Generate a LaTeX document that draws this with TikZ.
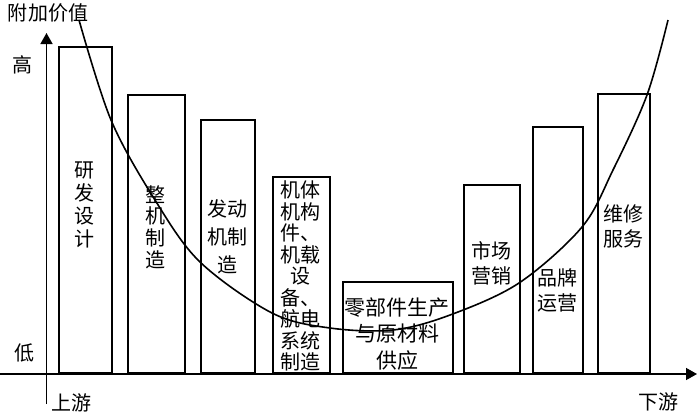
\documentclass[tikz,border=0pt]{standalone}
\usepackage{fontspec}
\newfontfamily\cjk{Noto Sans CJK SC}
\usetikzlibrary{arrows.meta}
\begin{document}
\begin{tikzpicture}[x=1pt,y=-1pt,
  bar/.style={draw,line width=1.6pt,anchor=south west,inner sep=0pt},
  lab/.style={font=\cjk\fontsize{20}{22}\selectfont,inner sep=0pt,align=center},
  axisline/.style={line width=1.4pt,-{Triangle[length=11pt,width=12pt]}},
  curveline/.style={line width=1.6pt}]
\useasboundingbox (0,0) rectangle (700,416);
% bars
\node[bar,minimum width=53pt,minimum height=326pt] (b1) at (58,374) {};
\node[bar,minimum width=57pt,minimum height=278pt] (b2) at (127,374) {};
\node[bar,minimum width=54pt,minimum height=253pt] (b3) at (200,374) {};
\node[bar,minimum width=57pt,minimum height=196pt] (b4) at (272,374) {};
\node[bar,minimum width=110pt,minimum height=91pt] (b5) at (342,374) {};
\node[bar,minimum width=56pt,minimum height=188pt] (b6) at (463,374) {};
\node[bar,minimum width=50pt,minimum height=246pt] (b7) at (532,374) {};
\node[bar,minimum width=52pt,minimum height=279pt] (b8) at (597,374) {};
% bar texts
\node[lab,font=\cjk\fontsize{20}{23}\selectfont] (t1) at (84.5,205) {研\\发\\设\\计};
\node[lab,font=\cjk\fontsize{20}{21.7}\selectfont] (t2) at (155.5,227) {整\\机\\制\\造};
\node[lab,font=\cjk\fontsize{20}{28}\selectfont] (t3) at (227,237) {发动\\机制\\造};
\node[lab,font=\cjk\fontsize{20}{21.5}\selectfont] (t4) at (300.5,276) {机体\\机构\\件、\\机载\\设\\备、\\航电\\系统\\制造};
\node[lab,font=\cjk\fontsize{21}{26.5}\selectfont] (t5) at (397,334) {零部件生产\\与原材料\\供应};
\node[lab,font=\cjk\fontsize{20}{25}\selectfont] (t6) at (491,263) {市场\\营销};
\node[lab,font=\cjk\fontsize{20}{25}\selectfont] (t7) at (557,290) {品牌\\运营};
\node[lab,font=\cjk\fontsize{20}{25}\selectfont] (t8) at (623,226) {维修\\服务};
% axes
\coordinate (ybot) at (46.5,404);
\coordinate (ytop) at (46.5,33);
\coordinate (xl) at (0,374);
\coordinate (xr) at (697,374);
\draw[axisline] (ybot) -- (ytop);
\draw[axisline] (xl) -- (xr);
% axis labels
\node[lab] (hi) at (22.5,65) {高};
\node[lab] (lo) at (24,353) {低};
\node[lab] (up) at (71,403) {上游};
\node[lab] (down) at (658,402) {下游};
\node[lab] (val) at (48,13) {附加价值};
% curve
\draw[curveline] plot[smooth,tension=0.55] coordinates {
 (79,20) (111,120) (155,200) (200,262) (272,313) (330,328) (393,330)
 (450,315) (519,283) (582,227) (613,170) (647,95) (668,20)};
\end{tikzpicture}
\end{document}
